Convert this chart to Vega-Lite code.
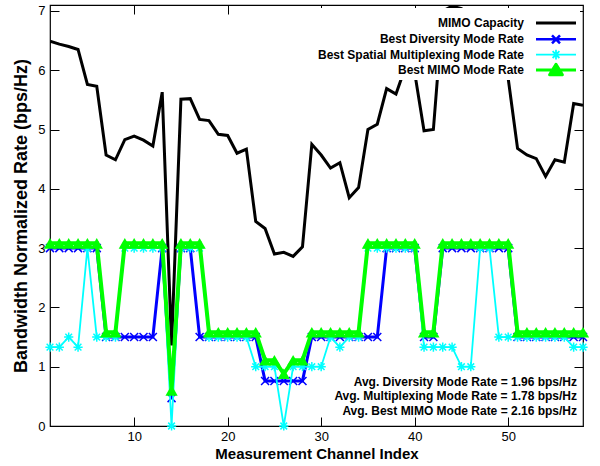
{
  "$schema": "https://vega.github.io/schema/vega-lite/v6.json",
  "width": 533,
  "height": 421,
  "autosize": {"type": "none"},
  "padding": {"left": 50, "top": 5, "right": 17, "bottom": 40},
  "background": "white",
  "config": {
    "font": "Liberation Sans",
    "view": {"stroke": "black", "strokeWidth": 1.2},
    "axis": {"grid": false, "domain": false, "tickColor": "black", "tickWidth": 1, "labelColor": "black", "titleColor": "black", "labelFont": "Liberation Sans", "titleFont": "Liberation Sans"}
  },
  "data": {
    "values": [
      {"i": 1, "cap": 6.49, "div": 3, "spm": 1.33, "mimo": 3.08},
      {"i": 2, "cap": 6.44, "div": 3, "spm": 1.33, "mimo": 3.08},
      {"i": 3, "cap": 6.40, "div": 3, "spm": 1.5, "mimo": 3.08},
      {"i": 4, "cap": 6.35, "div": 3, "spm": 1.33, "mimo": 3.08},
      {"i": 5, "cap": 5.76, "div": 3, "spm": 3, "mimo": 3.08},
      {"i": 6, "cap": 5.73, "div": 3, "spm": 1.5, "mimo": 3.08},
      {"i": 7, "cap": 4.57, "div": 1.5, "spm": 1.5, "mimo": 1.58},
      {"i": 8, "cap": 4.49, "div": 1.5, "spm": 1.5, "mimo": 1.58},
      {"i": 9, "cap": 4.83, "div": 1.5, "spm": 3, "mimo": 3.08},
      {"i": 10, "cap": 4.89, "div": 1.5, "spm": 3, "mimo": 3.08},
      {"i": 11, "cap": 4.82, "div": 1.5, "spm": 3, "mimo": 3.08},
      {"i": 12, "cap": 4.72, "div": 1.5, "spm": 3, "mimo": 3.08},
      {"i": 13, "cap": 5.63, "div": 3, "spm": 3, "mimo": 3.08},
      {"i": 14, "cap": 1.36, "div": 0.47, "spm": 0, "mimo": 0.6},
      {"i": 15, "cap": 5.51, "div": 3, "spm": 3, "mimo": 3.08},
      {"i": 16, "cap": 5.52, "div": 3, "spm": 3, "mimo": 3.08},
      {"i": 17, "cap": 5.17, "div": 1.5, "spm": 3, "mimo": 3.08},
      {"i": 18, "cap": 5.15, "div": 1.5, "spm": 1.5, "mimo": 1.58},
      {"i": 19, "cap": 4.92, "div": 1.5, "spm": 1.5, "mimo": 1.58},
      {"i": 20, "cap": 4.90, "div": 1.5, "spm": 1.5, "mimo": 1.58},
      {"i": 21, "cap": 4.60, "div": 1.5, "spm": 1.5, "mimo": 1.58},
      {"i": 22, "cap": 4.67, "div": 1.5, "spm": 1.5, "mimo": 1.58},
      {"i": 23, "cap": 3.45, "div": 1.5, "spm": 1, "mimo": 1.58},
      {"i": 24, "cap": 3.33, "div": 0.76, "spm": 1, "mimo": 1.11},
      {"i": 25, "cap": 2.90, "div": 0.76, "spm": 1, "mimo": 1.11},
      {"i": 26, "cap": 2.93, "div": 0.76, "spm": 0, "mimo": 0.88},
      {"i": 27, "cap": 2.86, "div": 0.76, "spm": 1, "mimo": 1.11},
      {"i": 28, "cap": 3.02, "div": 0.76, "spm": 1, "mimo": 1.11},
      {"i": 29, "cap": 4.75, "div": 1.5, "spm": 1, "mimo": 1.58},
      {"i": 30, "cap": 4.57, "div": 1.5, "spm": 1, "mimo": 1.58},
      {"i": 31, "cap": 4.35, "div": 1.5, "spm": 1.5, "mimo": 1.58},
      {"i": 32, "cap": 4.44, "div": 1.5, "spm": 1.33, "mimo": 1.58},
      {"i": 33, "cap": 3.85, "div": 1.5, "spm": 1.5, "mimo": 1.58},
      {"i": 34, "cap": 4.02, "div": 1.5, "spm": 1.5, "mimo": 1.58},
      {"i": 35, "cap": 5.00, "div": 1.5, "spm": 3, "mimo": 3.08},
      {"i": 36, "cap": 5.09, "div": 1.5, "spm": 3, "mimo": 3.08},
      {"i": 37, "cap": 5.69, "div": 3, "spm": 3, "mimo": 3.08},
      {"i": 38, "cap": 5.60, "div": 3, "spm": 3, "mimo": 3.08},
      {"i": 39, "cap": 6.05, "div": 3, "spm": 3, "mimo": 3.08},
      {"i": 40, "cap": 5.96, "div": 3, "spm": 3, "mimo": 3.08},
      {"i": 41, "cap": 4.98, "div": 1.5, "spm": 1.33, "mimo": 1.58},
      {"i": 42, "cap": 5.00, "div": 1.5, "spm": 1.33, "mimo": 1.58},
      {"i": 43, "cap": 7.00, "div": 3, "spm": 1.33, "mimo": 3.08},
      {"i": 44, "cap": 7.08, "div": 3, "spm": 1.33, "mimo": 3.08},
      {"i": 45, "cap": 7.04, "div": 3, "spm": 1, "mimo": 3.08},
      {"i": 46, "cap": 6.90, "div": 3, "spm": 1, "mimo": 3.08},
      {"i": 47, "cap": 6.70, "div": 3, "spm": 3, "mimo": 3.08},
      {"i": 48, "cap": 6.45, "div": 3, "spm": 3, "mimo": 3.08},
      {"i": 49, "cap": 6.20, "div": 3, "spm": 1.5, "mimo": 3.08},
      {"i": 50, "cap": 5.86, "div": 3, "spm": 1.5, "mimo": 3.08},
      {"i": 51, "cap": 4.68, "div": 1.5, "spm": 1.5, "mimo": 1.58},
      {"i": 52, "cap": 4.57, "div": 1.5, "spm": 1.5, "mimo": 1.58},
      {"i": 53, "cap": 4.51, "div": 1.5, "spm": 1.5, "mimo": 1.58},
      {"i": 54, "cap": 4.21, "div": 1.5, "spm": 1.5, "mimo": 1.58},
      {"i": 55, "cap": 4.49, "div": 1.5, "spm": 1.5, "mimo": 1.58},
      {"i": 56, "cap": 4.45, "div": 1.5, "spm": 1.5, "mimo": 1.58},
      {"i": 57, "cap": 5.44, "div": 1.5, "spm": 1.33, "mimo": 1.58},
      {"i": 58, "cap": 5.41, "div": 1.5, "spm": 1.33, "mimo": 1.58}
    ]
  },
  "transform": [{"fold": ["cap", "div", "spm", "mimo"], "as": ["key", "v"]}],
  "encoding": {
    "x": {"field": "i", "type": "quantitative", "scale": {"domain": [1, 58], "nice": false, "zero": false}, "axis": null},
    "y": {"field": "v", "type": "quantitative", "scale": {"domain": [0, 7.1], "nice": false}, "axis": null}
  },
  "resolve": {"axis": {"x": "independent", "y": "independent"}},
  "layer": [
    {
      "transform": [{"filter": "datum.key === 'cap'"}],
      "mark": {"type": "line", "strokeWidth": 3, "clip": true, "strokeJoin": "miter"},
      "encoding": {
        "x": {"field": "i", "type": "quantitative", "axis": {"orient": "bottom", "values": [10, 20, 30, 40, 50], "tickSize": -9, "labelPadding": 13, "labelFontSize": 13, "title": "Measurement Channel Index", "titleFontSize": 15, "titleFontWeight": "bold", "titlePadding": 3, "labelFlush": false}},
        "y": {"field": "v", "type": "quantitative", "axis": {"orient": "left", "values": [0, 1, 2, 3, 4, 5, 6, 7], "tickSize": -9, "labelPadding": 14, "labelFontSize": 13, "title": "Bandwidth Normalized Rate (bps/Hz)", "titleFontSize": 18, "titleFontWeight": "bold", "titlePadding": 7, "labelFlush": false}},
        "color": {
          "field": "key", "type": "nominal",
          "scale": {"domain": ["cap", "div", "spm", "mimo"], "range": ["#000000", "#0000ff", "#00ffff", "#00ff00"]},
          "legend": {
            "orient": "top-right", "title": " ", "titleFontSize": 5, "titlePadding": 2, "offset": 3, "padding": 2, "fillColor": "white",
            "labelExpr": "datum.value === 'cap' ? 'MIMO Capacity' : datum.value === 'div' ? 'Best Diversity Mode Rate' : datum.value === 'spm' ? 'Best Spatial Multiplexing Mode Rate' : 'Best MIMO Mode Rate'",
            "labelAlign": "right", "labelOffset": 238, "labelFontSize": 12, "labelFontWeight": "bold", "labelFont": "Liberation Sans", "labelColor": "black", "labelLimit": 400,
            "symbolSize": 64, "rowPadding": 0.3,
            "encode": {"symbols": {"update": {
              "shape": {"signal": "'M64,-1.5L64,-1.5M64,1.5L64,1.5' + (datum.value === 'cap' ? 'M64,0L74,0' : datum.value === 'div' ? 'M64,0L74,0M68,-1L70,1M68,1L70,-1' : datum.value === 'spm' ? 'M64,0L74,0M67.8,0L70.2,0M69,-1.2L69,1.2M68.15,-0.85L69.85,0.85M68.15,0.85L69.85,-0.85' : 'M64,0L74,0M69,-1.4L70.6,1.2L67.4,1.2Z')"},
              "stroke": {"signal": "datum.value === 'cap' ? '#000000' : datum.value === 'div' ? '#0000ff' : datum.value === 'spm' ? '#00ffff' : '#00ff00'"},
              "fill": {"signal": "datum.value === 'mimo' ? '#00ff00' : 'transparent'"},
              "strokeWidth": {"signal": "datum.value === 'cap' ? 3 : datum.value === 'div' ? 2.5 : datum.value === 'spm' ? 1.8 : 3"},
              "strokeJoin": {"value": "round"},
              "size": {"value": 64},
              "opacity": {"value": 1},
              "fillOpacity": {"value": 1},
              "strokeOpacity": {"value": 1}
            }}}
          }
        }
      }
    },
    {
      "transform": [{"filter": "datum.key === 'div'"}],
      "mark": {"type": "line", "strokeWidth": 3},
      "encoding": {"color": {"field": "key", "type": "nominal"}}
    },
    {
      "transform": [{"filter": "datum.key === 'div'"}],
      "mark": {"type": "point", "shape": "M-1,-1L1,1M-1,1L1,-1", "size": 64, "filled": false, "strokeWidth": 1.5, "opacity": 1},
      "encoding": {"color": {"field": "key", "type": "nominal"}}
    },
    {
      "transform": [{"filter": "datum.key === 'spm'"}],
      "mark": {"type": "line", "strokeWidth": 1.8},
      "encoding": {"color": {"field": "key", "type": "nominal"}}
    },
    {
      "transform": [{"filter": "datum.key === 'spm'"}],
      "mark": {"type": "point", "shape": "M-1.1,0L1.1,0M0,-1.1L0,1.1M-0.8,-0.8L0.8,0.8M-0.8,0.8L0.8,-0.8", "size": 70, "filled": false, "strokeWidth": 1.5, "opacity": 1},
      "encoding": {"color": {"field": "key", "type": "nominal"}}
    },
    {
      "transform": [{"filter": "datum.key === 'mimo'"}],
      "mark": {"type": "line", "strokeWidth": 4},
      "encoding": {"color": {"field": "key", "type": "nominal"}}
    },
    {
      "transform": [{"filter": "datum.key === 'mimo'"}],
      "mark": {"type": "point", "shape": "triangle-up", "size": 150, "filled": true, "opacity": 1},
      "encoding": {
        "x": {"field": "i", "type": "quantitative", "axis": {"orient": "top", "values": [10, 20, 30, 40, 50], "tickSize": -9, "labels": false, "title": null}},
        "y": {"field": "v", "type": "quantitative", "axis": {"orient": "right", "values": [0, 1, 2, 3, 4, 5, 6, 7], "tickSize": -9, "labels": false, "title": null}},
        "color": {"field": "key", "type": "nominal"}
      }
    },
    {
      "transform": [{"filter": "datum.key === 'cap' && datum.i === 58"}],
      "mark": {"type": "text", "align": "right", "baseline": "alphabetic", "dx": -6, "fontSize": 12, "fontWeight": "bold", "font": "Liberation Sans", "lineHeight": 14.2, "color": "black"},
      "encoding": {
        "x": {"datum": 58, "type": "quantitative", "axis": null},
        "y": {"datum": 0.67, "type": "quantitative", "axis": null},
        "text": {"value": ["Avg. Diversity Mode Rate = 1.96 bps/Hz", "Avg. Multiplexing Mode Rate = 1.78 bps/Hz", "Avg. Best MIMO Mode Rate = 2.16 bps/Hz"]}
      }
    }
  ]
}
